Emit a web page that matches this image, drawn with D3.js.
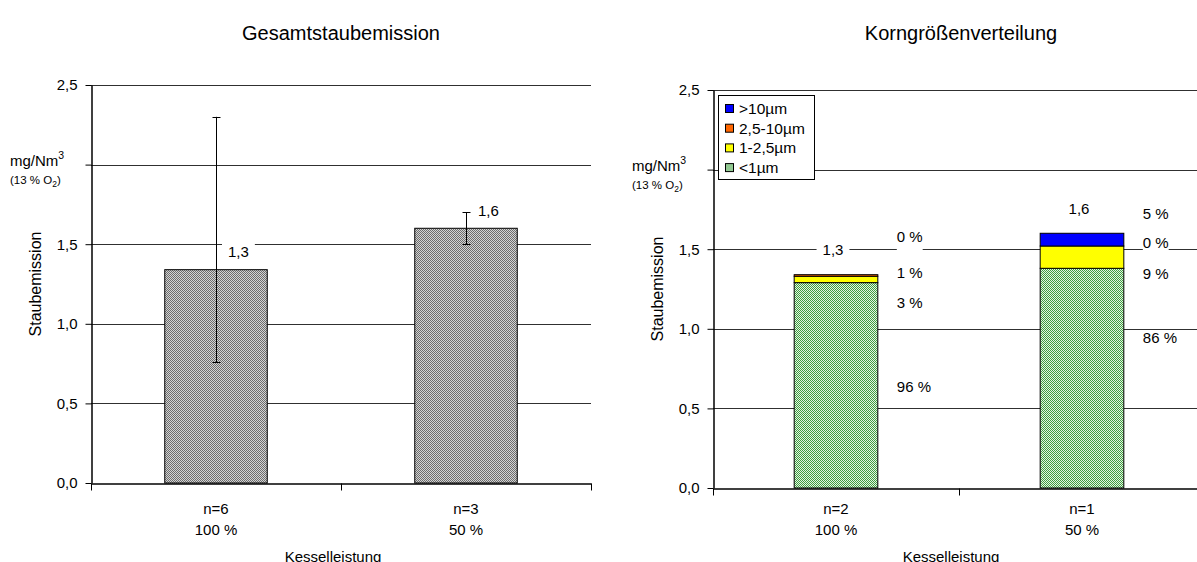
<!DOCTYPE html>
<html><head><meta charset="utf-8">
<script src="https://cdn.jsdelivr.net/npm/d3@7"></script>
<style>
body{margin:0;background:#fff}
text{font-family:"Liberation Sans",Arial,sans-serif;fill:#000}
</style>
</head><body>
<svg id="chart" width="1197" height="562"></svg>
<script>
// ---------- data ----------
const leftTitle = "Gesamtstaubemission";
const rightTitle = "Korngrößenverteilung";
const leftCategories = ["n=6", "n=3"];
const rightCategories = ["n=2", "n=1"];
const loadLevels = ["100 %", "50 %"];
const totalDust = [1.34, 1.60];
const errLow = [0.76, 1.50];
const errHigh = [2.30, 1.70];

const sizeClasses = [">10µm", "2,5-10µm", "1-2,5µm", "<1µm"];
const dustGt10 = [0.0, 0.08];
const dust25to10 = [0.01, 0.0];
const dust1to25 = [0.04, 0.14];
const dustLt1 = [1.29, 1.38];
const pctGt10 = ["0 %", "5 %"];
const pct25to10 = ["1 %", "0 %"];
const pct1to25 = ["3 %", "9 %"];
const pctLt1 = ["96 %", "86 %"];

const yTicks = [0, 0.5, 1.0, 1.5, 2.0, 2.5];
const yTickLabels = ["0,0", "0,5", "1,0", "1,5", "", "2,5"];
const yTitle = "Staubemission";
const xTitle = "Kesselleistung";

// ---------- drawing ----------
const FS = 15;
const svg = d3.select("#chart");
const defs = svg.append("defs");
function checker(id, dark, light) {
  const p = defs.append("pattern").attr("id", id).attr("patternUnits", "userSpaceOnUse")
    .attr("width", 2).attr("height", 2);
  p.append("rect").attr("width", 2).attr("height", 2).attr("fill", light);
  p.append("rect").attr("width", 1).attr("height", 1).attr("fill", dark);
  p.append("rect").attr("x", 1).attr("y", 1).attr("width", 1).attr("height", 1).attr("fill", dark);
}
checker("grayPat", "#6c6c6c", "#d4d4d4");
checker("greenPat", "#3f9d3f", "#e4f4e4");
const fmt = v => d3.format(".1f")(v).replace(".", ",");

function frame(cfg) {
  const g = svg.append("g");
  const y = d3.scaleLinear().domain([0, 2.5]).range([cfg.yBot, cfg.yTop]);
  const x = d3.scaleBand().domain(cfg.cats).range([cfg.x0, cfg.x1]).padding(0);
  g.append("g").selectAll("line").data(yTicks.filter(t => t > 0)).join("line")
    .attr("x1", cfg.x0).attr("x2", cfg.x1)
    .attr("y1", d => Math.round(y(d)) + 0.5).attr("y2", d => Math.round(y(d)) + 0.5)
    .attr("stroke", "#303030").attr("stroke-width", 1);
  g.append("text").attr("x", cfg.titleX).attr("y", 33)
    .attr("text-anchor", "middle").attr("dominant-baseline", "central")
    .style("font-size", "20px").text(cfg.title);
  const u = g.append("text").attr("x", cfg.x0 - 81).attr("y", y(2.0) + 1).style("font-size", "15px");
  u.append("tspan").text("mg/Nm");
  u.append("tspan").attr("dy", -7).style("font-size", "10.5px").text("3");
  const u2 = g.append("text").attr("x", cfg.x0 - 81).attr("y", y(2.0) + 19).style("font-size", "11.5px");
  u2.append("tspan").text("(13 % O");
  u2.append("tspan").attr("dy", 3).style("font-size", "8.5px").text("2");
  u2.append("tspan").attr("dy", -3).text(")");
  g.append("text").attr("transform", `translate(${cfg.x0 - 56},${(cfg.yTop + cfg.yBot) / 2}) rotate(-90)`)
    .attr("text-anchor", "middle").attr("dominant-baseline", "central")
    .style("font-size", "16px").text(yTitle);
  g.append("g").selectAll("text").data(cfg.cats).join("text")
    .attr("x", d => x(d) + x.bandwidth() / 2).attr("y", cfg.catY)
    .attr("text-anchor", "middle").attr("dominant-baseline", "central")
    .style("font-size", FS + "px").text(d => d);
  g.append("g").selectAll("text").data(loadLevels).join("text")
    .attr("x", (d, i) => x(cfg.cats[i]) + x.bandwidth() / 2).attr("y", cfg.catY + 21)
    .attr("text-anchor", "middle").attr("dominant-baseline", "central")
    .style("font-size", FS + "px").text(d => d);
  g.append("text").attr("x", (cfg.x0 + cfg.x1) / 2 - 8).attr("y", cfg.catY + 48)
    .attr("text-anchor", "middle").attr("dominant-baseline", "central")
    .style("font-size", FS + "px").text(xTitle);
  return { g, x, y };
}

function axes(cfg, f) {
  const { g, x, y } = f;
  const ya = d3.axisLeft(y).tickValues(yTicks).tickFormat((d, i) => yTickLabels[i])
    .tickSize(6).tickSizeOuter(0).tickPadding(8);
  const yg = g.append("g").attr("transform", `translate(${cfg.x0 + 0.5},0)`).call(ya);
  yg.selectAll("text").style("font-size", FS + "px").attr("font-family", null);
  yg.select(".domain").attr("stroke", "#000").attr("stroke-width", 1.5);
  yg.selectAll(".tick line").attr("stroke", "#000");
  const bnd = d3.scaleLinear().domain([0, cfg.cats.length]).range([cfg.x0, cfg.x1]);
  const xa = d3.axisBottom(bnd).tickValues(d3.range(cfg.cats.length + 1)).tickFormat("")
    .tickSize(7).tickSizeOuter(0);
  const xg = g.append("g").attr("transform", `translate(0,${Math.round(y(0)) + 0.5})`).call(xa);
  xg.select(".domain").attr("stroke", "#000").attr("stroke-width", 1.5);
  xg.selectAll(".tick line").attr("stroke", "#000");
}

function label(g, x, y, txt, anchor, padX, boxTop, boxBot) {
  const t = g.append("text").attr("x", x).attr("y", y).attr("text-anchor", anchor)
    .attr("dominant-baseline", "central").style("font-size", FS + "px").text(txt);
  const bb = t.node().getBBox();
  g.insert("rect", () => t.node())
    .attr("x", bb.x - padX).attr("width", bb.width + 2 * padX)
    .attr("y", y - boxTop).attr("height", boxTop + boxBot).attr("fill", "#fff");
}

// ---------- left chart ----------
const L = { x0: 91, x1: 591, yTop: 85, yBot: 483, cats: leftCategories, title: leftTitle, catY: 508, titleX: 341 };
const fl = frame(L);
const bwL = fl.x.bandwidth() * 0.41;
fl.g.append("g").selectAll("rect").data(totalDust).join("rect")
  .attr("x", (d, i) => fl.x(leftCategories[i]) + (fl.x.bandwidth() - bwL) / 2)
  .attr("width", bwL)
  .attr("y", d => fl.y(d)).attr("height", d => fl.y(0) - fl.y(d))
  .attr("fill", "url(#grayPat)").attr("stroke", "#000").attr("stroke-width", 1);
const eg = fl.g.append("g").attr("stroke", "#000").attr("stroke-width", 1);
totalDust.forEach((d, i) => {
  const cx = Math.round(fl.x(leftCategories[i]) + fl.x.bandwidth() / 2) + 0.5;
  eg.append("line").attr("x1", cx).attr("x2", cx).attr("y1", fl.y(errLow[i])).attr("y2", fl.y(errHigh[i]));
  [errLow[i], errHigh[i]].forEach(v => eg.append("line").attr("x1", cx - 4).attr("x2", cx + 4)
    .attr("y1", Math.round(fl.y(v)) + 0.5).attr("y2", Math.round(fl.y(v)) + 0.5));
});
axes(L, fl);
totalDust.forEach((d, i) => {
  const cx = fl.x(leftCategories[i]) + fl.x.bandwidth() / 2;
  label(fl.g, cx + 12, fl.y(d) - 18, fmt(d), "start", 6, 9, 9);
});

// ---------- right chart ----------
const R = { x0: 713, x1: 1205, yTop: 90, yBot: 488, cats: rightCategories, title: rightTitle, catY: 508, titleX: 961 };
const fr = frame(R);
const bwR = fr.x.bandwidth() * 0.34;
const stackRows = rightCategories.map((c, i) => ({
  cat: c, lt1: dustLt1[i], r1: dust1to25[i], r25: dust25to10[i], gt10: dustGt10[i]
}));
const keys = ["lt1", "r1", "r25", "gt10"];
const fills = { lt1: "url(#greenPat)", r1: "#ffff00", r25: "#ff6600", gt10: "#0000ff" };
const series = d3.stack().keys(keys)(stackRows);
fr.g.append("g").selectAll("g").data(series).join("g").attr("fill", s => fills[s.key])
  .selectAll("rect").data(s => s.filter(p => p[1] - p[0] > 0)).join("rect")
  .attr("x", p => fr.x(p.data.cat) + (fr.x.bandwidth() - bwR) / 2)
  .attr("width", bwR)
  .attr("y", p => fr.y(p[1])).attr("height", p => fr.y(p[0]) - fr.y(p[1]))
  .attr("stroke", "#000").attr("stroke-width", 1);
axes(R, fr);
const pctSets = { lt1: pctLt1, r1: pct1to25, r25: pct25to10, gt10: pctGt10 };
const nudge = { lt1: [1, -41], r1: [23, 16], r25: [-3, -4], gt10: [-38, -26] };
series.forEach(s => {
  s.forEach((p, i) => {
    const base = s.key === "gt10" && i === 0 ? fr.y(p[1]) : fr.y((p[0] + p[1]) / 2);
    const xr = fr.x(p.data.cat) + (fr.x.bandwidth() + bwR) / 2 + 19;
    label(fr.g, xr, base + nudge[s.key][i], pctSets[s.key][i], "start", 0, 7, 15);
  });
});
const totals = stackRows.map(r => r.lt1 + r.r1 + r.r25 + r.gt10);
totals.forEach((t, i) => {
  const cx = fr.x(rightCategories[i]) + fr.x.bandwidth() / 2;
  label(fr.g, cx - 3, fr.y(t) - 25, fmt(t), "middle", 6, 9, 9);
});
const lg = fr.g.append("g").attr("transform", "translate(718.5,95.5)");
lg.append("rect").attr("width", 96).attr("height", 84).attr("fill", "#fff").attr("stroke", "#000");
const legFill = [fills.gt10, fills.r25, fills.r1, fills.lt1];
sizeClasses.forEach((c, i) => {
  const yy = 13 + i * 19.7;
  lg.append("rect").attr("x", 7).attr("y", yy - 4).attr("width", 8).attr("height", 8)
    .attr("fill", legFill[i]).attr("stroke", "#000");
  lg.append("text").attr("x", 20.5).attr("y", yy).attr("dominant-baseline", "central")
    .style("font-size", "15.5px").text(c);
});
</script>
</body></html>
